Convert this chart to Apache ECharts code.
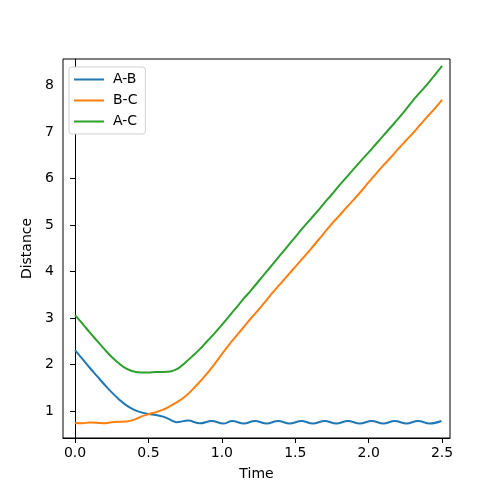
<!DOCTYPE html>
<html>
<head>
    <meta charset="utf-8">
    <title>Distance vs Time</title>
    <script src="https://cdn.jsdelivr.net/npm/echarts@6/dist/echarts.min.js"></script>
    <style>
        html, body {margin:0;padding:0;background:#fff;}
        #chart {width:500px;height:492px;}
    </style>
</head>
<body>
<div id="chart"></div>
<script>
    // A-B
    var timeAB = [0, 0.05, 0.1, 0.15, 0.2, 0.25, 0.3, 0.35, 0.4, 0.45, 0.5, 0.55, 0.6, 0.65,
        0.69, 0.77, 0.85, 0.93, 1.01, 1.07, 1.15, 1.225, 1.305, 1.383, 1.462, 1.542, 1.62, 1.70,
        1.78, 1.858, 1.94, 2.02, 2.10, 2.178, 2.257, 2.336, 2.416, 2.496];
    var distAB = [2.31, 2.12, 1.93, 1.75, 1.57, 1.40, 1.25, 1.12, 1.03, 0.97, 0.935, 0.915, 0.88, 0.81,
        0.76, 0.795, 0.735, 0.785, 0.73, 0.785, 0.73, 0.785, 0.73, 0.785, 0.73, 0.785, 0.73, 0.785,
        0.73, 0.785, 0.73, 0.785, 0.73, 0.785, 0.73, 0.785, 0.73, 0.785];

    // B-C and A-C share one time grid
    var timeGrid = [0, 0.05, 0.1, 0.15, 0.2, 0.25, 0.3, 0.35, 0.4, 0.45, 0.5, 0.55, 0.6, 0.65, 0.7,
        0.75, 0.8, 0.85, 0.9, 0.95, 1.0, 1.05, 1.1, 1.15, 1.2, 1.25, 1.3, 1.35, 1.4, 1.45, 1.5,
        1.55, 1.6, 1.65, 1.7, 1.75, 1.8, 1.85, 1.9, 1.95, 2.0, 2.05, 2.1, 2.15, 2.2, 2.25, 2.3,
        2.35, 2.4, 2.45, 2.5];
    var distBC = [0.75, 0.735, 0.755, 0.75, 0.735, 0.76, 0.77, 0.775, 0.81, 0.88, 0.93, 0.975, 1.03, 1.11, 1.20,
        1.31, 1.46, 1.63, 1.81, 2.01, 2.22, 2.43, 2.62, 2.81, 3.00, 3.18, 3.37, 3.56, 3.74, 3.92, 4.10,
        4.28, 4.46, 4.65, 4.84, 5.03, 5.20, 5.38, 5.55, 5.73, 5.92, 6.10, 6.28, 6.45, 6.63, 6.80, 6.97,
        7.15, 7.33, 7.50, 7.69];
    var distAC = [3.06, 2.88, 2.69, 2.51, 2.33, 2.16, 2.02, 1.91, 1.85, 1.83, 1.83, 1.84, 1.84, 1.85, 1.91,
        2.04, 2.18, 2.33, 2.50, 2.67, 2.85, 3.04, 3.23, 3.42, 3.60, 3.79, 3.98, 4.17, 4.36, 4.55, 4.74,
        4.93, 5.11, 5.29, 5.48, 5.66, 5.85, 6.03, 6.21, 6.39, 6.56, 6.74, 6.92, 7.10, 7.28, 7.47, 7.67,
        7.85, 8.03, 8.22, 8.42];

    var xTicks = [0, 0.5, 1.0, 1.5, 2.0, 2.5];
    var yTicks = [1, 2, 3, 4, 5, 6, 7, 8];

    function pairs(xs, ys) {
        return xs.map(function (x, i) { return [x, ys[i]]; });
    }

    var font = 'DejaVu Sans';
    var chart = echarts.init(document.getElementById('chart'));
    var option = {
        animation: false,
        textStyle: {fontFamily: font},
        grid: {left: 63, right: 50, top: 59, bottom: 54, show: true, borderColor: '#000', borderWidth: 1},
        legend: {
            orient: 'vertical', left: 69, top: 67,
            data: ['A-B', 'B-C', 'A-C'],
            icon: 'rect', itemWidth: 30, itemHeight: 2, itemGap: 6,
            backgroundColor: '#fff', borderColor: '#d0d0d0', borderWidth: 1, borderRadius: 3,
            padding: [5, 8, 5, 5],
            textStyle: {fontFamily: font, fontSize: 14, color: '#000', lineHeight: 15, padding: [0, 0, 0, 4]}
        },
        xAxis: {
            type: 'value', min: -0.082, max: 2.554,
            name: 'Time', nameLocation: 'middle', nameGap: 29,
            nameTextStyle: {fontFamily: font, fontSize: 14, color: '#000'},
            axisLine: {lineStyle: {color: '#000'}},
            axisTick: {customValues: xTicks, length: 5, lineStyle: {color: '#000'}},
            axisLabel: {customValues: xTicks, margin: 8, fontFamily: font, fontSize: 14, color: '#000',
                formatter: function (v) { return v.toFixed(1); }},
            splitLine: {show: false}
        },
        yAxis: {
            type: 'value', min: 0.42, max: 8.568,
            name: 'Distance', nameLocation: 'middle', nameGap: 24,
            nameTextStyle: {fontFamily: font, fontSize: 14, color: '#000'},
            axisLine: {show: true, lineStyle: {color: '#000'}},
            axisTick: {show: true, customValues: yTicks, length: 5, lineStyle: {color: '#000'}},
            axisLabel: {customValues: yTicks, margin: 9, fontFamily: font, fontSize: 14, color: '#000'},
            splitLine: {show: false}
        },
        series: [
            {name: 'A-B', type: 'line', data: pairs(timeAB, distAB), smooth: 0.4, showSymbol: false,
                color: '#1f77b4', lineStyle: {width: 2}},
            {name: 'B-C', type: 'line', data: pairs(timeGrid, distBC), smooth: 0.4, showSymbol: false,
                color: '#ff7f0e', lineStyle: {width: 2}},
            {name: 'A-C', type: 'line', data: pairs(timeGrid, distAC), smooth: 0.4, showSymbol: false,
                color: '#2ca02c', lineStyle: {width: 2}}
        ]
    };
    chart.setOption(option);
</script>
</body>
</html>
